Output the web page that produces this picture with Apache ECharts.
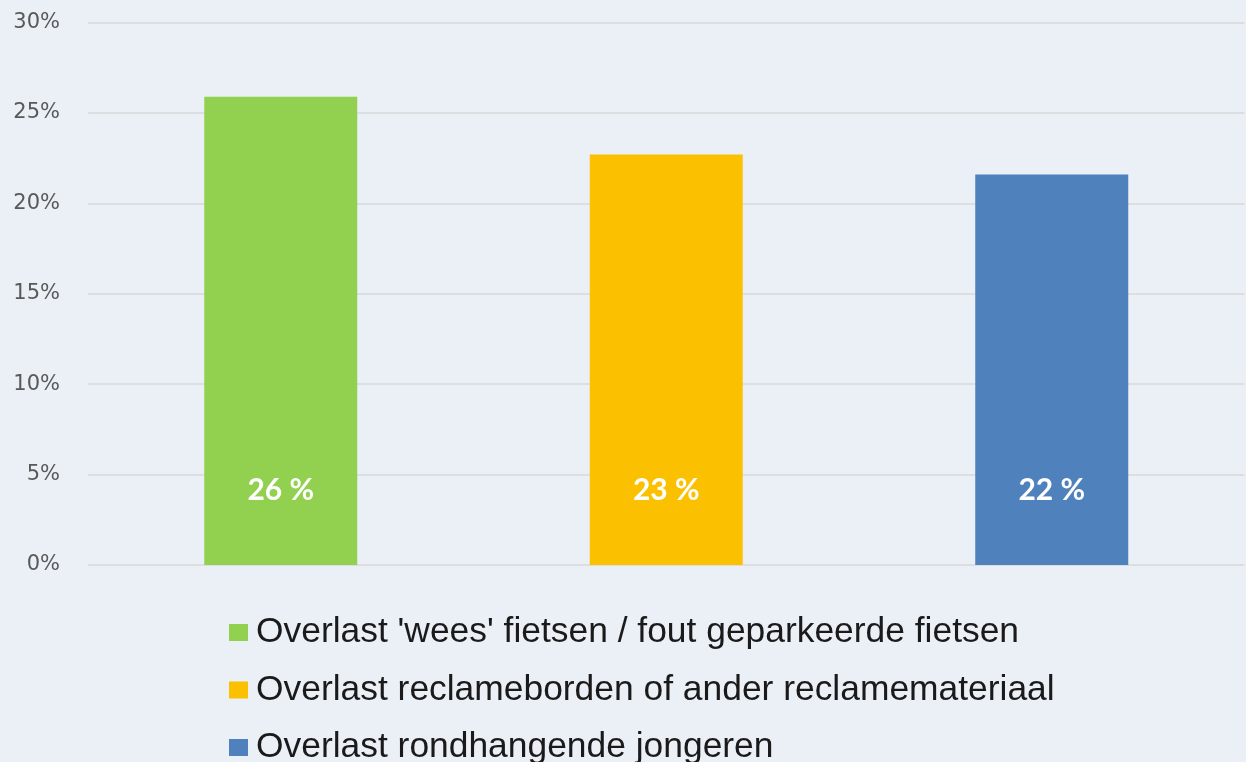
<!DOCTYPE html>
<html>
<head>
<meta charset="utf-8">
<script src="https://cdn.jsdelivr.net/npm/echarts@6/dist/echarts.min.js"></script>
<style>
  html, body { margin: 0; padding: 0; background: #ebeff6; }
  #chart { width: 1246px; height: 762px; }
</style>
</head>
<body>
<div id="chart"></div>
<script>
// categorieën en waarden (percentages)
const categories = [
    "Overlast 'wees' fietsen / fout geparkeerde fietsen",
    'Overlast reclameborden of ander reclamemateriaal',
    'Overlast rondhangende jongeren'
];
const values = [25.9, 22.7, 21.6];
const colors = ['#92d050', '#fbc100', '#4f81bd'];

const myChart = echarts.init(document.getElementById('chart'));

// elke categorie een eigen serie, zodat de legenda per balk werkt
const series = categories.map(function (name, i) {
    return {
        name: name,
        type: 'bar',
        barWidth: 153,
        barGap: '-100%',
        data: categories.map(function (c, j) { return j === i ? values[i] : '-'; }),
        itemStyle: { color: colors[i] },
        label: {
            show: true,
            position: 'insideBottom',
            distance: 60,
            color: '#fff',
            fontFamily: 'Lato',
            fontWeight: 'bold',
            fontSize: 30,
            formatter: function (p) { return Math.round(p.value) + ' %'; }
        }
    };
});

const option = {
    animation: false,
    backgroundColor: '#ebeff6',
    grid: {
        top: 22.5,
        left: 88,
        right: 1.5,
        bottom: 197
    },
    legend: {
        orient: 'vertical',
        left: 229,
        top: 615,
        height: 190,
        padding: 0,
        itemWidth: 19,
        itemHeight: 17,
        itemGap: 22.5,
        icon: 'rect',
        textStyle: {
            fontFamily: 'Liberation Sans',
            fontSize: 35.4,
            color: '#1a1a1a',
            padding: [0, 0, 0, 3]
        },
        data: categories
    },
    xAxis: {
        type: 'category',
        data: categories,
        axisLine: { show: false },
        axisTick: { show: false },
        axisLabel: { show: false }
    },
    yAxis: {
        type: 'value',
        min: 0,
        max: 30,
        interval: 5,
        axisLabel: {
            formatter: '{value}%',
            color: '#595959',
            fontFamily: 'DejaVu Sans',
            fontSize: 21,
            margin: 28
        },
        splitLine: {
            lineStyle: { color: '#d9d9d9', width: 1.5 }
        }
    },
    series: series
};
myChart.setOption(option);
</script>
</body>
</html>
